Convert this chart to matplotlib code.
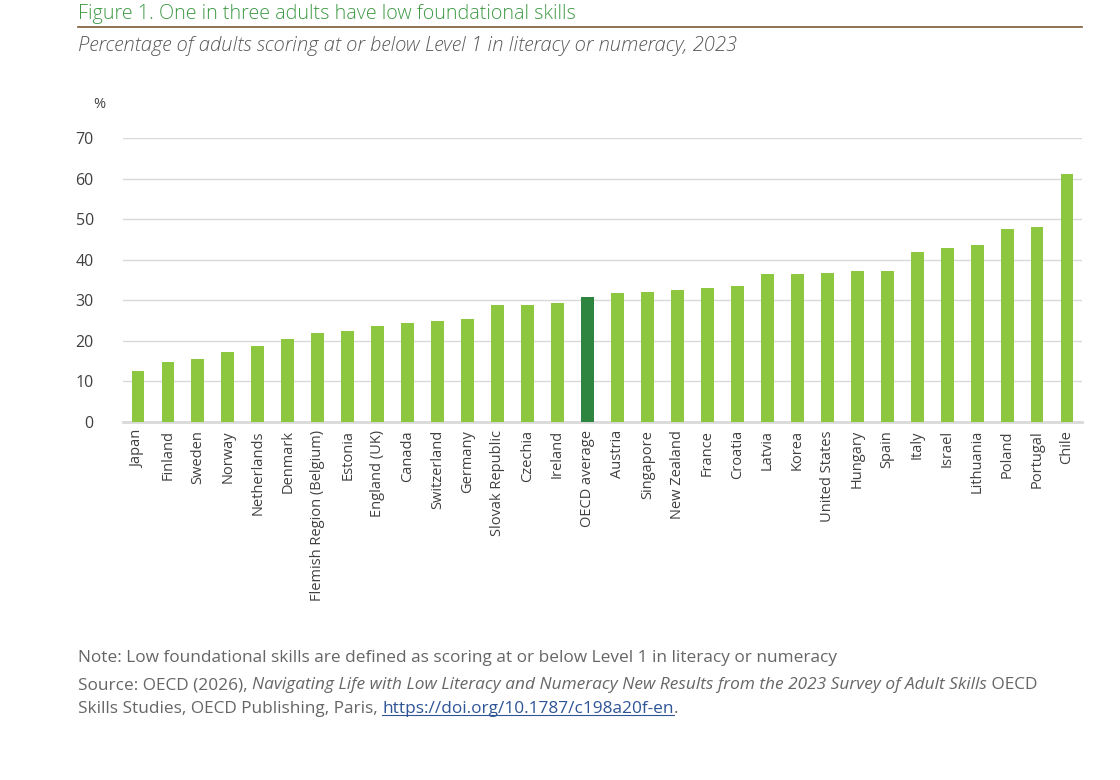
import matplotlib
matplotlib.use("Agg")
import matplotlib.pyplot as plt

countries = ["Japan", "Finland", "Sweden", "Norway", "Netherlands", "Denmark",
             "Flemish Region (Belgium)", "Estonia", "England (UK)", "Canada",
             "Switzerland", "Germany", "Slovak Republic", "Czechia", "Ireland",
             "OECD average", "Austria", "Singapore", "New Zealand", "France",
             "Croatia", "Latvia", "Korea", "United States", "Hungary", "Spain",
             "Italy", "Israel", "Lithuania", "Poland", "Portugal", "Chile"]
values = [12.5, 14.7, 15.5, 17.2, 18.7, 20.4, 21.9, 22.4, 23.6, 24.3,
          24.8, 25.3, 28.8, 28.8, 29.3, 30.8, 31.8, 32.0, 32.5, 33.0,
          33.5, 36.5, 36.5, 36.7, 37.2, 37.2, 41.9, 42.9, 43.6, 47.5,
          48.1, 61.2]
yticks = [0, 10, 20, 30, 40, 50, 60, 70]

plt.rcParams["font.family"] = ["Open Sans", "DejaVu Sans"]
plt.rcParams["font.stretch"] = "normal"

GREEN = "#8dc63f"
DARK = "#2e8540"
TXT = "#404040"
LIGHT = dict(fontweight=300, fontstretch="normal")
REG = dict(fontweight=400, fontstretch="normal")

fig = plt.figure(figsize=(11.2, 7.8), dpi=100)
ax = fig.add_axes([123/1120, 1-421.7/780, (1082-123)/1120, (421.7-138.3)/780])

colors = [DARK if c == "OECD average" else GREEN for c in countries]
x = list(range(len(countries)))
ax.bar(x, values, width=0.43, color=colors, zorder=3)
ax.set_xlim(-0.5, len(countries) - 0.5)
ax.set_ylim(0, 70)
ax.set_yticks(yticks)
ax.set_yticklabels([str(v) for v in yticks], fontsize=11.5, color=TXT, **REG)
ax.set_xticks(x)
ax.set_xticklabels(countries, rotation=90, fontsize=10.5, color=TXT, **REG)
ax.tick_params(axis="both", length=0, pad=6)
ax.tick_params(axis="y", pad=21)
ax.grid(axis="y", color="#d9d9d9", linewidth=1, zorder=0)
for s in ["top", "right", "left"]:
    ax.spines[s].set_visible(False)
ax.spines["bottom"].set_color("#d9d9d9")
ax.spines["bottom"].set_linewidth(2)

fig.text(99/1120, 1-104/780, "%", fontsize=10.5, color=TXT, ha="center", va="center", **REG)

fig.text(78/1120, 1-14/780, "Figure 1. One in three adults have low foundational skills",
         fontsize=14.2, color="#3e9a45", ha="left", va="center", **LIGHT)
fig.add_artist(plt.Line2D([78/1120, 1082/1120], [1-26.5/780, 1-26.5/780],
                          color="#7a5c33", linewidth=1.2))
fig.text(78/1120, 1-46/780, "Percentage of adults scoring at or below Level 1 in literacy or numeracy, 2023",
         fontsize=14.6, color="#595959", style="italic", ha="left", va="center", **LIGHT)

FS = 12.4
GRAY = "#666666"
fig.text(78/1120, 1-658/780,
         "Note: Low foundational skills are defined as scoring at or below Level 1 in literacy or numeracy",
         fontsize=FS, color=GRAY, ha="left", va="center", **REG)


def chain(y, parts):
    xpos = 78
    last = None
    for txt, style, col in parts:
        last = fig.text(xpos/1120, 1-y/780, txt, fontsize=FS, color=col, style=style,
                        ha="left", va="center", **REG)
        fig.canvas.draw()
        xpos = last.get_window_extent().x1
    return last


fig.canvas.draw()
chain(685, [("Source: OECD (2026), ", "normal", GRAY),
            ("Navigating Life with Low Literacy and Numeracy New Results from the 2023 Survey of Adult Skills", "italic", GRAY),
            (" OECD", "normal", GRAY)])
link = chain(709, [("Skills Studies, OECD Publishing, Paris, ", "normal", GRAY),
                   ("https://doi.org/10.1787/c198a20f-en", "normal", "#2f5597")])
lb = link.get_window_extent()
fig.add_artist(plt.Line2D([lb.x0/1120, lb.x1/1120], [(lb.y0 + 2)/780, (lb.y0 + 2)/780],
                          color="#2f5597", linewidth=0.8))
fig.text(lb.x1/1120, 1-709/780, ".", fontsize=FS, color=GRAY, ha="left", va="center", **REG)

fig.savefig("out.png", dpi=100)
